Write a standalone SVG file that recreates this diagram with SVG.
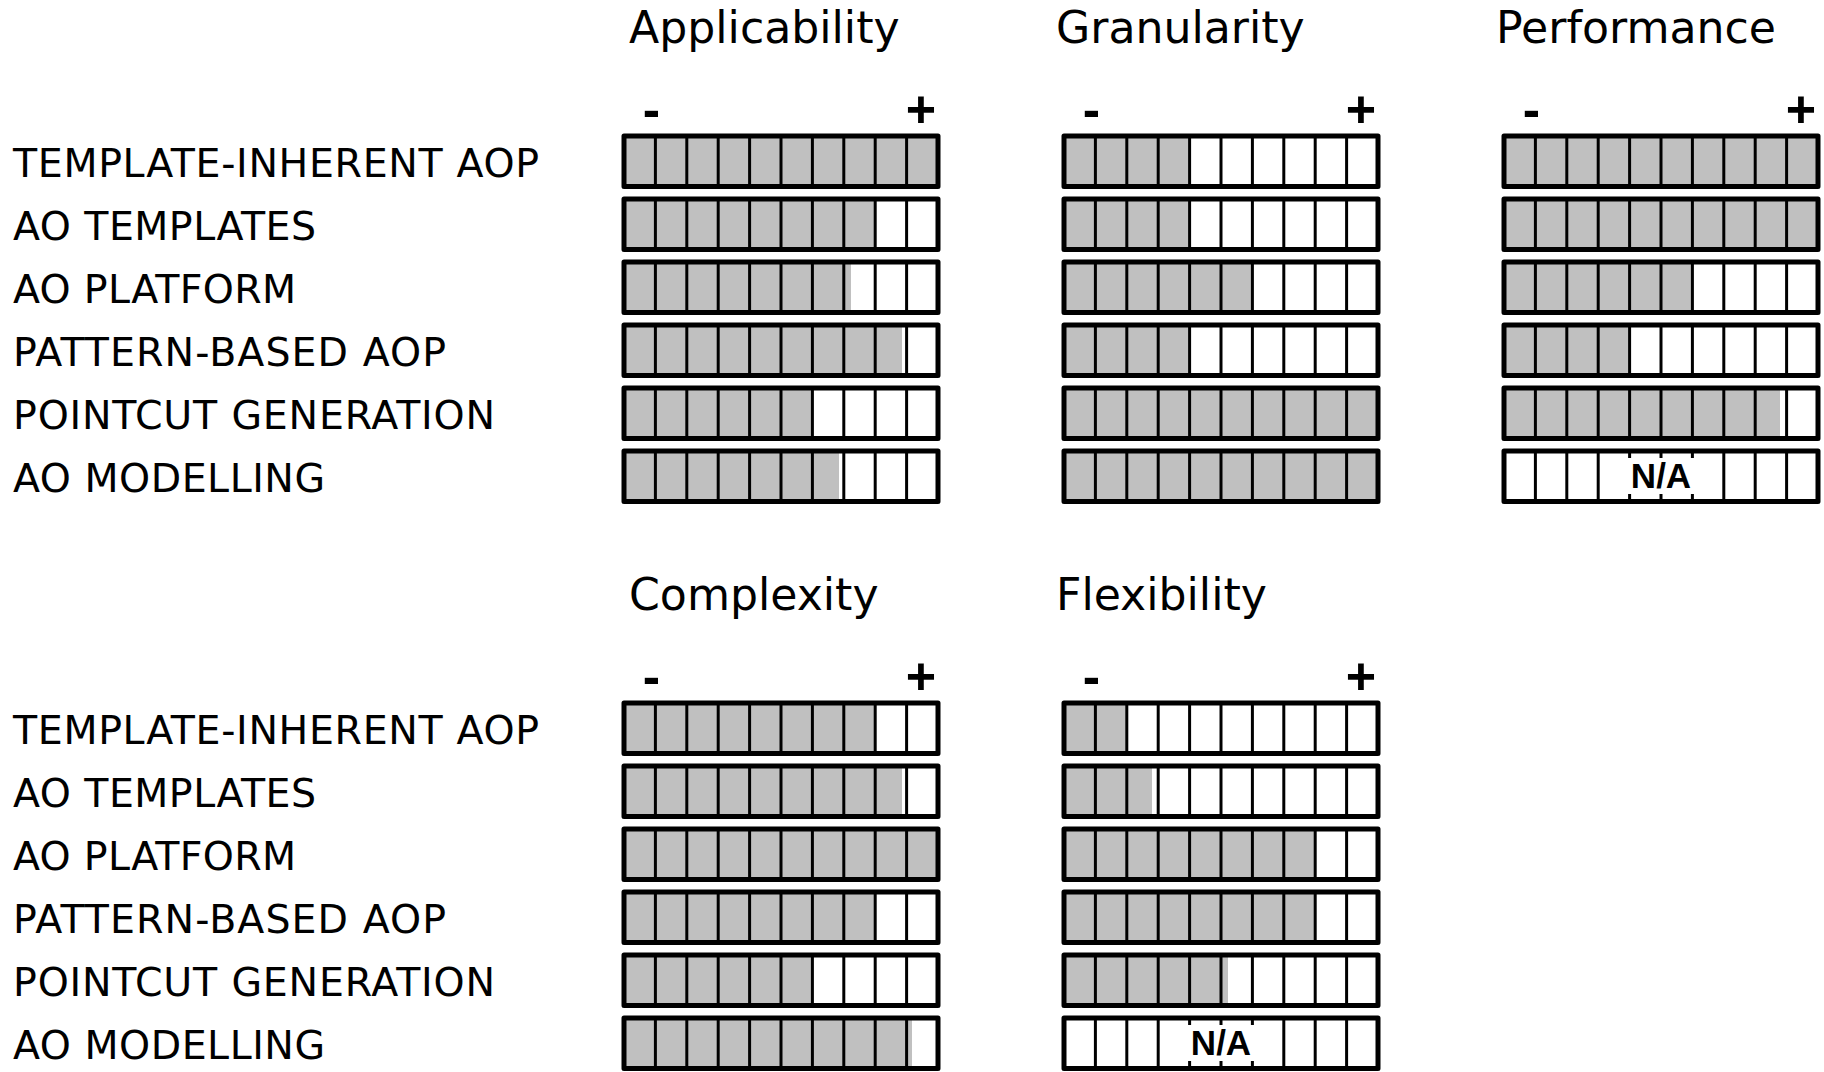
<svg xmlns="http://www.w3.org/2000/svg" xmlns:xlink="http://www.w3.org/1999/xlink" width="1824" height="1072" viewBox="0 0 1824 1072">
  <style>
    .title { font-family: "DejaVu Sans", Verdana, sans-serif; font-size: 44.2px; fill: #000; }
    .label { font-family: "DejaVu Sans", Verdana, sans-serif; font-size: 39.5px; fill: #000; }
    .sign { font-family: "Liberation Sans", Arial, sans-serif; font-weight: bold; font-size: 52px; fill: #000; text-anchor: middle; }
    .na { font-family: "Liberation Sans", Arial, sans-serif; font-weight: bold; font-size: 35px; fill: #000; text-anchor: middle; }
    .lvl { fill: #c0c0c0; }
    .outer { fill: none; stroke: #000; stroke-width: 5; stroke-linejoin: round; }
    .div { stroke: #000; stroke-width: 3; }
  </style>
  <defs>
    <!-- ten-cell scale frame: outline plus nine dividers -->
    <g id="frame">
      <g class="div">
        <line x1="31.4" y1="0" x2="31.4" y2="50.5"/>
        <line x1="62.8" y1="0" x2="62.8" y2="50.5"/>
        <line x1="94.2" y1="0" x2="94.2" y2="50.5"/>
        <line x1="125.6" y1="0" x2="125.6" y2="50.5"/>
        <line x1="157" y1="0" x2="157" y2="50.5"/>
        <line x1="188.4" y1="0" x2="188.4" y2="50.5"/>
        <line x1="219.8" y1="0" x2="219.8" y2="50.5"/>
        <line x1="251.2" y1="0" x2="251.2" y2="50.5"/>
        <line x1="282.6" y1="0" x2="282.6" y2="50.5"/>
      </g>
      <rect class="outer" x="0" y="0" width="314" height="50.5"/>
    </g>
    <!-- "not applicable" overlay, centred on the frame -->
    <g id="na">
      <rect x="121" y="7" width="72" height="36" fill="#fff"/>
      <text class="na" x="157" y="36.5">N/A</text>
    </g>
  </defs>

  <rect width="1824" height="1072" fill="#fff"/>

  <!-- row labels -->
  <g id="labels-top">
    <text class="label" x="13" y="176.5" textLength="526" lengthAdjust="spacing">TEMPLATE-INHERENT AOP</text>
    <text class="label" x="13" y="239.5" textLength="303" lengthAdjust="spacing">AO TEMPLATES</text>
    <text class="label" x="13" y="302.5" textLength="283" lengthAdjust="spacing">AO PLATFORM</text>
    <text class="label" x="13" y="365.5" textLength="433" lengthAdjust="spacing">PATTERN-BASED AOP</text>
    <text class="label" x="13" y="428.5" textLength="482" lengthAdjust="spacing">POINTCUT GENERATION</text>
    <text class="label" x="13" y="491.5" textLength="312" lengthAdjust="spacing">AO MODELLING</text>
  </g>
  <g id="labels-bottom">
    <text class="label" x="13" y="743.5" textLength="526" lengthAdjust="spacing">TEMPLATE-INHERENT AOP</text>
    <text class="label" x="13" y="806.5" textLength="303" lengthAdjust="spacing">AO TEMPLATES</text>
    <text class="label" x="13" y="869.5" textLength="283" lengthAdjust="spacing">AO PLATFORM</text>
    <text class="label" x="13" y="932.5" textLength="433" lengthAdjust="spacing">PATTERN-BASED AOP</text>
    <text class="label" x="13" y="995.5" textLength="482" lengthAdjust="spacing">POINTCUT GENERATION</text>
    <text class="label" x="13" y="1058.5" textLength="312" lengthAdjust="spacing">AO MODELLING</text>
  </g>

  <!-- Applicability -->
  <g id="applicability">
    <text class="title" x="629" y="43">Applicability</text>
    <text class="sign" x="651.5" y="127">-</text>
    <text class="sign" x="921" y="127">+</text>
    <g id="app-r1" transform="translate(624,136)"><rect class="lvl" width="314" height="50.5"/><use xlink:href="#frame"/></g>
    <g id="app-r2" transform="translate(624,199)"><rect class="lvl" width="251.2" height="50.5"/><use xlink:href="#frame"/></g>
    <g id="app-r3" transform="translate(624,262)"><rect class="lvl" width="227" height="50.5"/><use xlink:href="#frame"/></g>
    <g id="app-r4" transform="translate(624,325)"><rect class="lvl" width="278" height="50.5"/><use xlink:href="#frame"/></g>
    <g id="app-r5" transform="translate(624,388)"><rect class="lvl" width="188.4" height="50.5"/><use xlink:href="#frame"/></g>
    <g id="app-r6" transform="translate(624,451)"><rect class="lvl" width="215" height="50.5"/><use xlink:href="#frame"/></g>
  </g>

  <!-- Granularity -->
  <g id="granularity">
    <text class="title" x="1056" y="43">Granularity</text>
    <text class="sign" x="1091.5" y="127">-</text>
    <text class="sign" x="1361" y="127">+</text>
    <g id="gra-r1" transform="translate(1064,136)"><rect class="lvl" width="125.6" height="50.5"/><use xlink:href="#frame"/></g>
    <g id="gra-r2" transform="translate(1064,199)"><rect class="lvl" width="125.6" height="50.5"/><use xlink:href="#frame"/></g>
    <g id="gra-r3" transform="translate(1064,262)"><rect class="lvl" width="188.4" height="50.5"/><use xlink:href="#frame"/></g>
    <g id="gra-r4" transform="translate(1064,325)"><rect class="lvl" width="125.6" height="50.5"/><use xlink:href="#frame"/></g>
    <g id="gra-r5" transform="translate(1064,388)"><rect class="lvl" width="314" height="50.5"/><use xlink:href="#frame"/></g>
    <g id="gra-r6" transform="translate(1064,451)"><rect class="lvl" width="314" height="50.5"/><use xlink:href="#frame"/></g>
  </g>

  <!-- Performance -->
  <g id="performance">
    <text class="title" x="1496" y="43">Performance</text>
    <text class="sign" x="1531.5" y="127">-</text>
    <text class="sign" x="1801" y="127">+</text>
    <g id="per-r1" transform="translate(1504,136)"><rect class="lvl" width="314" height="50.5"/><use xlink:href="#frame"/></g>
    <g id="per-r2" transform="translate(1504,199)"><rect class="lvl" width="314" height="50.5"/><use xlink:href="#frame"/></g>
    <g id="per-r3" transform="translate(1504,262)"><rect class="lvl" width="188.4" height="50.5"/><use xlink:href="#frame"/></g>
    <g id="per-r4" transform="translate(1504,325)"><rect class="lvl" width="125.6" height="50.5"/><use xlink:href="#frame"/></g>
    <g id="per-r5" transform="translate(1504,388)"><rect class="lvl" width="276" height="50.5"/><use xlink:href="#frame"/></g>
    <g id="per-r6" transform="translate(1504,451)"><use xlink:href="#frame"/><use xlink:href="#na"/></g>
  </g>

  <!-- Complexity -->
  <g id="complexity">
    <text class="title" x="629" y="610">Complexity</text>
    <text class="sign" x="651.5" y="694">-</text>
    <text class="sign" x="921" y="694">+</text>
    <g id="com-r1" transform="translate(624,703)"><rect class="lvl" width="251.2" height="50.5"/><use xlink:href="#frame"/></g>
    <g id="com-r2" transform="translate(624,766)"><rect class="lvl" width="278" height="50.5"/><use xlink:href="#frame"/></g>
    <g id="com-r3" transform="translate(624,829)"><rect class="lvl" width="314" height="50.5"/><use xlink:href="#frame"/></g>
    <g id="com-r4" transform="translate(624,892)"><rect class="lvl" width="251.2" height="50.5"/><use xlink:href="#frame"/></g>
    <g id="com-r5" transform="translate(624,955)"><rect class="lvl" width="188.4" height="50.5"/><use xlink:href="#frame"/></g>
    <g id="com-r6" transform="translate(624,1018)"><rect class="lvl" width="288" height="50.5"/><use xlink:href="#frame"/></g>
  </g>

  <!-- Flexibility -->
  <g id="flexibility">
    <text class="title" x="1056" y="610">Flexibility</text>
    <text class="sign" x="1091.5" y="694">-</text>
    <text class="sign" x="1361" y="694">+</text>
    <g id="fle-r1" transform="translate(1064,703)"><rect class="lvl" width="62.8" height="50.5"/><use xlink:href="#frame"/></g>
    <g id="fle-r2" transform="translate(1064,766)"><rect class="lvl" width="88" height="50.5"/><use xlink:href="#frame"/></g>
    <g id="fle-r3" transform="translate(1064,829)"><rect class="lvl" width="251.2" height="50.5"/><use xlink:href="#frame"/></g>
    <g id="fle-r4" transform="translate(1064,892)"><rect class="lvl" width="251.2" height="50.5"/><use xlink:href="#frame"/></g>
    <g id="fle-r5" transform="translate(1064,955)"><rect class="lvl" width="164" height="50.5"/><use xlink:href="#frame"/></g>
    <g id="fle-r6" transform="translate(1064,1018)"><use xlink:href="#frame"/><use xlink:href="#na"/></g>
  </g>
</svg>
